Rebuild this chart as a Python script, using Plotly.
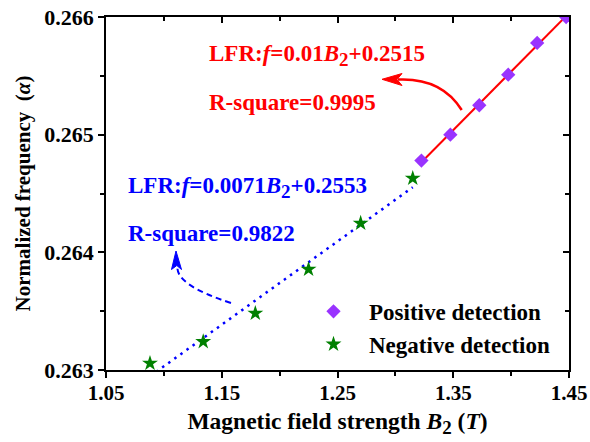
import numpy as np
import plotly.graph_objects as go

# ---- data ----
pos_B = [1.3225, 1.3475, 1.3725, 1.3975, 1.4225, 1.4475]
pos_f = [0.26478, 0.26500, 0.26525, 0.26551, 0.26578, 0.26600]
neg_B = [1.088, 1.134, 1.179, 1.225, 1.270, 1.315]
neg_f = [0.263057, 0.263241, 0.263482, 0.263856, 0.264247, 0.264629]

x_ticks = [1.05, 1.15, 1.25, 1.35, 1.45]
y_ticks = [0.263, 0.264, 0.265, 0.266]

FONT = "Liberation Serif"
RED = "#FF0000"
BLUE = "#0000FF"
PURPLE = "#9933FF"
GREEN = "#008000"

# linear fits
pp = np.polyfit(pos_B, pos_f, 1)
pn = np.polyfit(neg_B, neg_f, 1)
xp = np.array([min(pos_B), max(pos_B)])
xn = np.array([min(neg_B), max(neg_B)])

fig = go.Figure()
fig.add_trace(go.Scatter(x=xp, y=np.polyval(pp, xp), mode="lines",
                         line=dict(color=RED, width=2), showlegend=False))
fig.add_trace(go.Scatter(x=xn, y=np.polyval(pn, xn), mode="lines",
                         line=dict(color=BLUE, width=2.5, dash="2.5px,5px"), showlegend=False))
fig.add_trace(go.Scatter(x=pos_B, y=pos_f, mode="markers", name="Positive detection",
                         marker=dict(symbol="diamond", size=11, color=PURPLE)))
fig.add_trace(go.Scatter(x=neg_B, y=neg_f, mode="markers", name="Negative detection",
                         marker=dict(symbol="star", size=12, color=GREEN)))
# invisible trace for mirrored axes
fig.add_trace(go.Scatter(x=[None], y=[None], xaxis="x2", yaxis="y2", showlegend=False,
                         hoverinfo="skip"))

common = dict(showline=True, linecolor="black", linewidth=1.5, showgrid=False,
              zeroline=False, ticklen=6, tickwidth=1.5, tickcolor="black", automargin=False)

fig.update_layout(
    width=590, height=442,
    margin=dict(l=106, r=21, t=17, b=72),
    paper_bgcolor="white", plot_bgcolor="white",
    font=dict(family=FONT, color="black"),
    xaxis=dict(range=[1.05, 1.45], tickvals=x_ticks, ticktext=[f"{v:.2f}" for v in x_ticks],
               ticks="outside", tickfont=dict(family=FONT, size=21, color="black", weight="bold"),
               ticklabelstandoff=-3, ticklabeloverflow="allow",
               minor=dict(dtick=0.05, tick0=1.05, ticklen=4, tickwidth=1.5, tickcolor="black", ticks="outside"),
               title=dict(text="Magnetic field strength <i>B</i><sub><span style='font-size:19px'>2</span></sub> (<i>T</i>)",
                          font=dict(family=FONT, size=23.5, weight="bold"), standoff=9),
               **common),
    yaxis=dict(range=[0.263, 0.266], tickvals=y_ticks, ticktext=[f"{v:.3f}" for v in y_ticks],
               ticks="outside", tickfont=dict(family=FONT, size=22, color="black", weight="bold"),
               ticklabeloverflow="allow",
               minor=dict(dtick=0.0005, tick0=0.263, ticklen=4, tickwidth=1.5, tickcolor="black", ticks="outside"),
               title=dict(text="Normalized frequency  (<i>α</i>)",
                          font=dict(family=FONT, size=21, weight="bold"), standoff=8),
               **common),
    xaxis2=dict(overlaying="x", matches="x", side="top", anchor="y2", ticks="inside",
                tickvals=x_ticks, showticklabels=False,
                minor=dict(dtick=0.05, tick0=1.05, ticklen=4, tickwidth=1.5, tickcolor="black", ticks="inside"),
                **common),
    yaxis2=dict(overlaying="y", matches="y", side="right", anchor="x2", ticks="inside",
                tickvals=y_ticks, showticklabels=False,
                minor=dict(dtick=0.0005, tick0=0.263, ticklen=4, tickwidth=1.5, tickcolor="black", ticks="inside"),
                **common),
    legend=dict(x=0.4147, y=0.227, xanchor="left", yanchor="top", bgcolor="rgba(0,0,0,0)",
                font=dict(family=FONT, size=23, weight="bold"), itemwidth=61, tracegroupgap=0),
)

annfont_r = dict(family=FONT, size=23, color=RED, weight="bold")
annfont_b = dict(family=FONT, size=23, color=BLUE, weight="bold")

def px2paper(px, py):
    return (px - 106) / 463.0, 1 - (py - 17) / 353.0

SUB2 = "<sub><span style='font-size:19px'>2</span></sub>"
anns = [
    ("LFR:<i>f</i>=0.01<i>B</i>" + SUB2 + "+0.2515", 207, 55, annfont_r),
    ("R-square=0.9995", 207, 103, annfont_r),
    ("LFR:<i>f</i>=0.0071<i>B</i>" + SUB2 + "+0.2553", 126, 187, annfont_b),
    ("R-square=0.9822", 126, 233, annfont_b),
]
for txt, px, py, f in anns:
    x, y = px2paper(px, py)
    fig.add_annotation(text=txt, x=x, y=y, xref="paper", yref="paper", xanchor="left",
                       yanchor="middle", showarrow=False, font=f)

# curved arrow bodies and heads (paper coords)
def pth(pts, cmd):
    p = [px2paper(*q) for q in pts]
    return cmd.format(*[f"{a},{b}" for a, b in p])

fig.add_shape(type="path", xref="paper", yref="paper",
              path=pth([(461.7, 110), (441.6, 77.5), (398, 79.5)], "M {0} Q {1} {2}"),
              line=dict(color=RED, width=2.5))
fig.add_shape(type="path", xref="paper", yref="paper",
              path=pth([(382, 79.3), (402, 73.5), (397, 79.5), (402, 85.5)], "M {0} L {1} L {2} L {3} Z"),
              line=dict(color=RED, width=1), fillcolor=RED)
fig.add_shape(type="path", xref="paper", yref="paper",
              path=pth([(231, 303), (175, 285), (177.5, 266)], "M {0} Q {1} {2}"),
              line=dict(color=BLUE, width=2, dash="6px,4px"))
fig.add_shape(type="path", xref="paper", yref="paper",
              path=pth([(176, 251), (171.5, 269.5), (176.8, 265.5), (181.5, 269.5)], "M {0} L {1} L {2} L {3} Z"),
              line=dict(color=BLUE, width=1), fillcolor=BLUE)

# remove the default 8px page margin so the figure fills the window exactly
fig.write_html("out.html", config={"displayModeBar": False},
               post_script="document.body.style.margin='0px';")
